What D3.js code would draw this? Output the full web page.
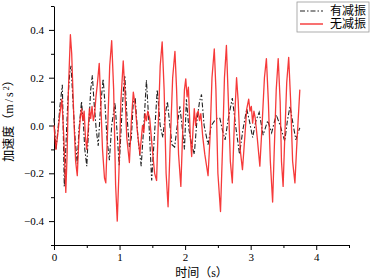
<!DOCTYPE html>
<html>
<head>
<meta charset="utf-8">
<script src="https://cdn.jsdelivr.net/npm/d3@7"></script>
<style>
  body { margin: 0; background: #fff; }
  text { font-family: "Liberation Serif", "Noto Sans CJK SC", serif; }
</style>
</head>
<body>
<div id="chart"></div>
<script>
// 无减振 (red, solid): [time s, acceleration m/s²]
const redData = [
  [0.00, 0.0], [0.03, -0.1], [0.06, -0.03], [0.09, 0.05], [0.12, 0.11], [0.15, -0.05],
  [0.18, -0.28], [0.20, -0.12], [0.22, 0.15], [0.25, 0.38], [0.27, 0.30], [0.30, 0.05],
  [0.33, -0.15], [0.355, -0.21], [0.38, -0.05], [0.40, 0.03], [0.42, 0.07], [0.44, 0.02],
  [0.46, 0.06], [0.48, -0.05], [0.50, -0.1], [0.52, -0.02], [0.54, 0.07], [0.56, 0.03],
  [0.58, 0.08], [0.60, 0.02], [0.62, 0.05], [0.64, 0.12], [0.66, 0.17], [0.69, 0.26],
  [0.71, 0.12], [0.74, -0.1], [0.77, -0.22], [0.79, -0.24], [0.82, 0.0], [0.85, 0.25],
  [0.88, 0.355], [0.91, 0.15], [0.94, -0.25], [0.965, -0.4], [0.99, -0.2], [1.02, 0.1],
  [1.056, 0.27], [1.08, 0.15], [1.11, -0.05], [1.15, -0.155], [1.18, 0.02], [1.21, 0.14],
  [1.24, 0.08], [1.27, -0.02], [1.31, -0.12], [1.33, -0.06], [1.35, 0.0], [1.37, -0.03],
  [1.39, 0.05], [1.41, 0.02], [1.43, 0.06], [1.46, 0.03], [1.50, -0.1], [1.535, -0.2],
  [1.565, -0.23], [1.59, 0.0], [1.62, 0.25], [1.65, 0.35], [1.68, 0.15], [1.71, -0.2],
  [1.74, -0.34], [1.77, -0.1], [1.81, 0.2], [1.845, 0.31], [1.87, 0.15], [1.90, -0.12],
  [1.935, -0.255], [1.96, -0.05], [1.99, 0.15], [2.01, 0.195], [2.03, 0.12], [2.05, 0.16],
  [2.08, -0.05], [2.10, -0.13], [2.12, -0.02], [2.14, 0.07], [2.16, 0.0], [2.18, 0.05],
  [2.20, 0.06], [2.22, 0.02], [2.24, 0.05], [2.27, -0.05], [2.30, -0.12], [2.35, -0.21],
  [2.38, -0.05], [2.41, 0.2], [2.445, 0.32], [2.47, 0.15], [2.50, -0.2], [2.54, -0.36],
  [2.57, -0.1], [2.60, 0.2], [2.63, 0.335], [2.66, 0.1], [2.69, -0.15], [2.72, -0.24],
  [2.75, 0.0], [2.785, 0.2], [2.81, 0.1], [2.84, -0.1], [2.875, -0.185], [2.91, -0.05],
  [2.94, 0.07], [2.97, 0.11], [2.99, 0.06], [3.01, 0.08], [3.03, 0.01], [3.05, 0.06],
  [3.07, 0.03], [3.10, -0.05], [3.14, -0.17], [3.17, -0.02], [3.21, 0.2], [3.24, 0.28],
  [3.27, 0.1], [3.30, -0.15], [3.335, -0.32], [3.36, -0.1], [3.39, 0.15], [3.42, 0.28],
  [3.45, 0.1], [3.47, -0.15], [3.495, -0.255], [3.52, -0.05], [3.55, 0.18], [3.58, 0.285],
  [3.61, 0.1], [3.64, -0.15], [3.675, -0.24], [3.70, -0.1], [3.73, 0.05], [3.75, 0.15]
];

// 有减振 (black, dash-dot)
const blackData = [
  [0.00, 0.03], [0.03, -0.1], [0.06, -0.02], [0.09, 0.08], [0.127, 0.17], [0.14, 0.0],
  [0.157, -0.255], [0.18, -0.1], [0.21, 0.1], [0.24, 0.22], [0.26, 0.25], [0.29, 0.1],
  [0.32, -0.05], [0.355, -0.16], [0.38, -0.02], [0.42, 0.1], [0.45, 0.0], [0.47, -0.1],
  [0.50, -0.17], [0.53, 0.0], [0.56, 0.15], [0.585, 0.21], [0.61, 0.1], [0.645, -0.02],
  [0.675, -0.085], [0.71, 0.08], [0.75, 0.195], [0.78, 0.08], [0.81, -0.06], [0.845, -0.145],
  [0.88, 0.0], [0.93, 0.095], [0.96, -0.02], [0.995, -0.17], [1.03, 0.02], [1.06, 0.15],
  [1.08, 0.21], [1.11, 0.05], [1.15, -0.09], [1.18, -0.05], [1.21, 0.1], [1.24, 0.11],
  [1.28, -0.05], [1.33, -0.17], [1.37, 0.0], [1.41, 0.19], [1.45, 0.0], [1.49, -0.23],
  [1.53, -0.05], [1.575, 0.15], [1.62, 0.0], [1.66, -0.05], [1.70, 0.05], [1.73, 0.1],
  [1.76, 0.02], [1.80, -0.08], [1.84, -0.09], [1.88, 0.0], [1.92, 0.08], [1.96, -0.02],
  [1.99, -0.1], [2.02, 0.11], [2.06, -0.02], [2.10, -0.08], [2.14, -0.12], [2.18, 0.02],
  [2.22, 0.1], [2.25, 0.13], [2.29, 0.0], [2.35, -0.08], [2.40, 0.0], [2.45, 0.02],
  [2.49, 0.03], [2.53, 0.03], [2.57, -0.02], [2.61, -0.06], [2.66, 0.03], [2.72, 0.115],
  [2.77, 0.0], [2.83, -0.12], [2.88, -0.02], [2.94, 0.07], [2.98, 0.02], [3.03, -0.05],
  [3.08, 0.02], [3.13, 0.055], [3.19, -0.04], [3.26, 0.02], [3.32, -0.03], [3.39, 0.045],
  [3.45, 0.0], [3.52, -0.066], [3.56, 0.02], [3.60, 0.08], [3.65, 0.0], [3.69, -0.06],
  [3.72, -0.03], [3.75, -0.01]
];

const xTicks = [0, 1, 2, 3, 4];
const yTicks = [-0.4, -0.2, 0.0, 0.2, 0.4];
const seriesNames = ["有减振", "无减振"];

const W = 371, H = 280;
const margin = { top: 6, right: 22, bottom: 35, left: 54 };
const width = W - margin.left - margin.right;
const height = H - margin.top - margin.bottom;

const svg = d3.select("#chart").append("svg")
    .attr("width", W)
    .attr("height", H);

const g = svg.append("g")
    .attr("transform", `translate(${margin.left},${margin.top})`);

const x = d3.scaleLinear().domain([0, 4.5]).range([0, width]);
const y = d3.scaleLinear().domain([-0.5, 0.5]).range([height, 0]);

// minor ticks
g.append("g")
    .attr("transform", `translate(0,${height})`)
    .call(d3.axisBottom(x).tickValues(d3.range(0.5, 4.6, 1)).tickSize(3).tickFormat(""))
    .call(a => a.select(".domain").remove());
g.append("g")
    .call(d3.axisLeft(y).tickValues([-0.5, -0.3, -0.1, 0.1, 0.3, 0.5]).tickSize(3).tickFormat(""))
    .call(a => a.select(".domain").remove());

// major axes
g.append("g")
    .attr("transform", `translate(0,${height})`)
    .call(d3.axisBottom(x).tickValues(xTicks).tickSize(5).tickSizeOuter(0).tickPadding(3).tickFormat(d3.format("d")));
g.append("g")
    .call(d3.axisLeft(y).tickValues(yTicks).tickSize(5).tickSizeOuter(0).tickPadding(5)
        .tickFormat(d => d3.format(".1f")(d).replace("-", "\u2212")));

g.selectAll(".tick line, .domain").attr("stroke", "#000").attr("stroke-width", 1);
g.selectAll(".tick text").style("font-size", "11px").attr("fill", "#000");

const line = d3.line().x(d => x(d[0])).y(d => y(d[1]));

g.append("path")
    .datum(blackData)
    .attr("fill", "none")
    .attr("stroke", "#222")
    .attr("stroke-width", 1.1)
    .attr("stroke-dasharray", "5,2,1.5,2")
    .attr("d", line);

g.append("path")
    .datum(redData)
    .attr("fill", "none")
    .attr("stroke", "#f52525")
    .attr("stroke-opacity", 0.9)
    .attr("stroke-width", 1.3)
    .attr("stroke-linejoin", "round")
    .attr("d", line);

// axis labels
svg.append("text")
    .attr("x", margin.left + width / 2)
    .attr("y", 277)
    .attr("text-anchor", "middle")
    .style("font-size", "12px")
    .text("时间（s）");

svg.append("text")
    .attr("transform", `translate(13,118) rotate(-90)`)
    .attr("text-anchor", "middle")
    .style("font-size", "12px")
    .html("加速度（<tspan letter-spacing='2'>m/s</tspan><tspan dy='-4' font-size='8px'>2</tspan><tspan dy='4'>）</tspan>");

// legend
const legend = svg.append("g").attr("transform", "translate(297,2)");
legend.append("rect")
    .attr("width", 72).attr("height", 30)
    .attr("fill", "#fff").attr("stroke", "#999").attr("stroke-width", 0.8);
legend.append("line")
    .attr("x1", 3).attr("x2", 26).attr("y1", 9).attr("y2", 9)
    .attr("stroke", "#222").attr("stroke-width", 1.1).attr("stroke-dasharray", "5,2,1.5,2");
legend.append("line")
    .attr("x1", 3).attr("x2", 26).attr("y1", 22).attr("y2", 22)
    .attr("stroke", "#f52525").attr("stroke-width", 1.3);
legend.selectAll("text.lg")
    .data(seriesNames)
    .enter().append("text")
    .attr("class", "lg")
    .attr("x", 33)
    .attr("y", (d, i) => 13 + i * 13)
    .style("font-size", "12px")
    .text(d => d);
</script>
</body>
</html>
